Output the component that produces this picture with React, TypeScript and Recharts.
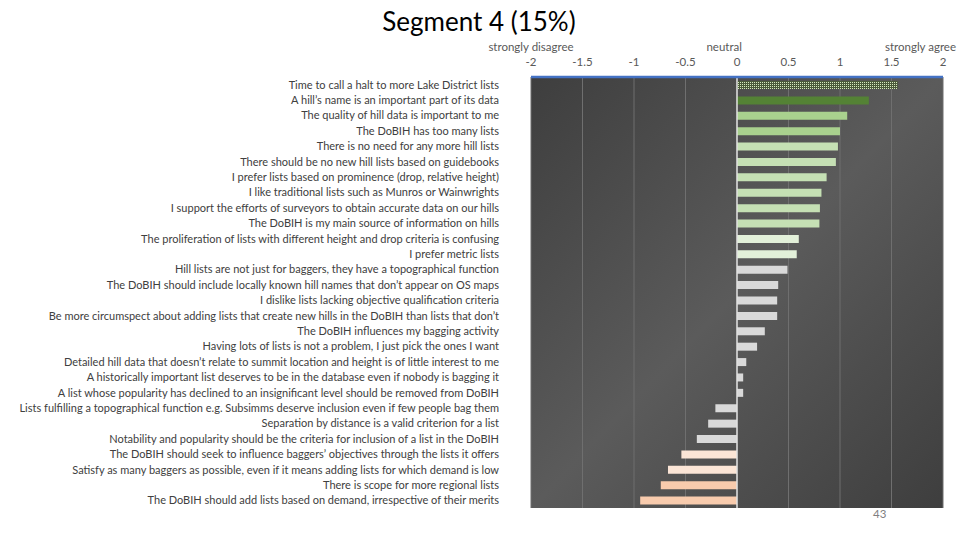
import React from 'react';
import { BarChart, Bar, XAxis, YAxis, CartesianGrid, ReferenceLine, Cell } from 'recharts';

const statements = [
  'Time to call a halt to more Lake District lists',
  'A hill\u2019s name is an important part of its data',
  'The quality of hill data is important to me',
  'The DoBIH has too many lists',
  'There is no need for any more hill lists',
  'There should be no new hill lists based on guidebooks',
  'I prefer lists based on prominence (drop, relative height)',
  'I like traditional lists such as Munros or Wainwrights',
  'I support the efforts of surveyors to obtain accurate data on our hills',
  'The DoBIH is my main source of information on hills',
  'The proliferation of lists with different height and drop criteria is confusing',
  'I prefer metric lists',
  'Hill lists are not just for baggers, they have a topographical function',
  'The DoBIH should include locally known hill names that don\u2019t appear on OS maps',
  'I dislike lists lacking objective qualification criteria',
  'Be more circumspect about adding lists that create new hills in the DoBIH than lists that don\u2019t',
  'The DoBIH influences my bagging activity',
  'Having lots of lists is not a problem, I just pick the ones I want',
  'Detailed hill data that doesn\u2019t relate to summit location and height is of little interest to me',
  'A historically important list deserves to be in the database even if nobody is bagging it',
  'A list whose popularity has declined to an insignificant level should be removed from DoBIH',
  'Lists fulfilling a topographical function e.g. Subsimms deserve inclusion even if few people bag them',
  'Separation by distance is a valid criterion for a list',
  'Notability and popularity should be the criteria for inclusion of a list in the DoBIH',
  'The DoBIH should seek to influence baggers\u2019 objectives through the lists it offers',
  'Satisfy as many baggers as possible, even if it means adding lists for which demand is low',
  'There is scope for more regional lists',
  'The DoBIH should add lists based on demand, irrespective of their merits',
];

const scores = [
  1.56, 1.28, 1.07, 1.0, 0.98, 0.96, 0.87, 0.82, 0.805, 0.8, 0.6, 0.58, 0.49, 0.4,
  0.39, 0.39, 0.27, 0.195, 0.09, 0.06, 0.06, -0.21, -0.28, -0.39, -0.54, -0.67, -0.74, -0.94,
];

const xTicks = [-2, -1.5, -1, -0.5, 0, 0.5, 1, 1.5, 2];
const scaleNames: Record<string, string> = { '-2': 'strongly disagree', '0': 'neutral', '2': 'strongly agree' };

const barColors = [
  'url(#dots)', '#548235', '#a9d18e', '#a9d18e', '#c5e0b4', '#c5e0b4', '#c5e0b4', '#c5e0b4',
  '#c5e0b4', '#c5e0b4', '#e2f0d9', '#e2f0d9', '#d9d9d9', '#d9d9d9', '#d9d9d9', '#d9d9d9',
  '#d9d9d9', '#d9d9d9', '#d9d9d9', '#d9d9d9', '#d9d9d9', '#d9d9d9', '#d9d9d9', '#d9d9d9',
  '#fbe5d6', '#fbe5d6', '#f8cbad', '#f8cbad',
];

const FONT = 'Lato, "Open Sans", sans-serif';

const data = statements.map((name, i) => ({ name, value: scores[i] }));

// numbers on the axis plus the agree/disagree wording above some of them
const TopTick = (props: any) => {
  const { x, y, payload } = props;
  const v = payload.value;
  const label = scaleNames[String(v)];
  let anchor: 'middle' | 'end' = 'middle';
  let dx = 0;
  if (v === 0) { anchor = 'end'; dx = 5; }
  if (v === 2) { anchor = 'end'; dx = 13; }
  return (
    <g>
      <text x={x} y={y - 11} textAnchor="middle" fill="#595959" fontSize={11.5} fontFamily={FONT}>
        {v}
      </text>
      {label && (
        <text x={x + dx} y={y - 26} textAnchor={anchor} fill="#595959" fontSize={11.5} fontFamily={FONT}>
          {label}
        </text>
      )}
    </g>
  );
};

const LeftTick = (props: any) => {
  const { x, y, payload } = props;
  return (
    <text x={x - 32} y={y + 4} textAnchor="end" fill="#404040" fontSize={11} fontFamily={FONT}>
      {payload.value}
    </text>
  );
};

const App: React.FC = () => {
  return (
    <div style={{ position: 'absolute', left: 0, top: 0, width: 960, height: 540, background: '#fff' }}>
      <div
        style={{
          position: 'absolute', left: 479, top: 5, transform: 'translateX(-50%)', whiteSpace: 'nowrap',
          fontFamily: FONT, fontSize: 26, color: '#000',
        }}
      >
        Segment 4 (15%)
      </div>
      <BarChart
        width={960}
        height={540}
        data={data}
        layout="vertical"
        margin={{ top: 37, right: 17, bottom: 32, left: 0 }}
        barCategoryGap={0}
      >
        <defs>
          <linearGradient id="bgGrad" x1="0" y1="0" x2="1" y2="1">
            <stop offset="0%" stopColor="#3e3e3e" />
            <stop offset="50%" stopColor="#5b5b5b" />
            <stop offset="100%" stopColor="#3e3e3e" />
          </linearGradient>
          <pattern id="dots" width="2" height="2" patternUnits="userSpaceOnUse">
            <rect width="2" height="2" fill="#4a5a3a" />
            <rect width="1" height="1" fill="#d6eabf" />
          </pattern>
        </defs>
        <CartesianGrid horizontal={false} stroke="#6f6f6f" fill="url(#bgGrad)" fillOpacity={1} />
        <XAxis
          type="number"
          orientation="top"
          domain={[-2, 2]}
          ticks={xTicks}
          height={40}
          tickLine={false}
          tickSize={0}
          tickMargin={0}
          axisLine={{ stroke: '#4472c4', strokeWidth: 2.5 }}
          tick={<TopTick />}
          interval={0}
        />
        <YAxis
          type="category"
          dataKey="name"
          width={531}
          axisLine={false}
          tickLine={false}
          tickSize={0}
          tickMargin={0}
          tick={<LeftTick />}
          interval={0}
        />
        <Bar dataKey="value" barSize={8} isAnimationActive={false}>
          {data.map((entry, i) => (
            <Cell key={`c-${i}`} fill={barColors[i]} />
          ))}
        </Bar>
        <ReferenceLine x={0} stroke="#e0e0e0" strokeWidth={1.5} />
      </BarChart>
      <div
        style={{
          position: 'absolute', left: 873, top: 507, fontFamily: FONT, fontSize: 11.5, color: '#7f7f7f',
        }}
      >
        43
      </div>
    </div>
  );
};

export default App;
